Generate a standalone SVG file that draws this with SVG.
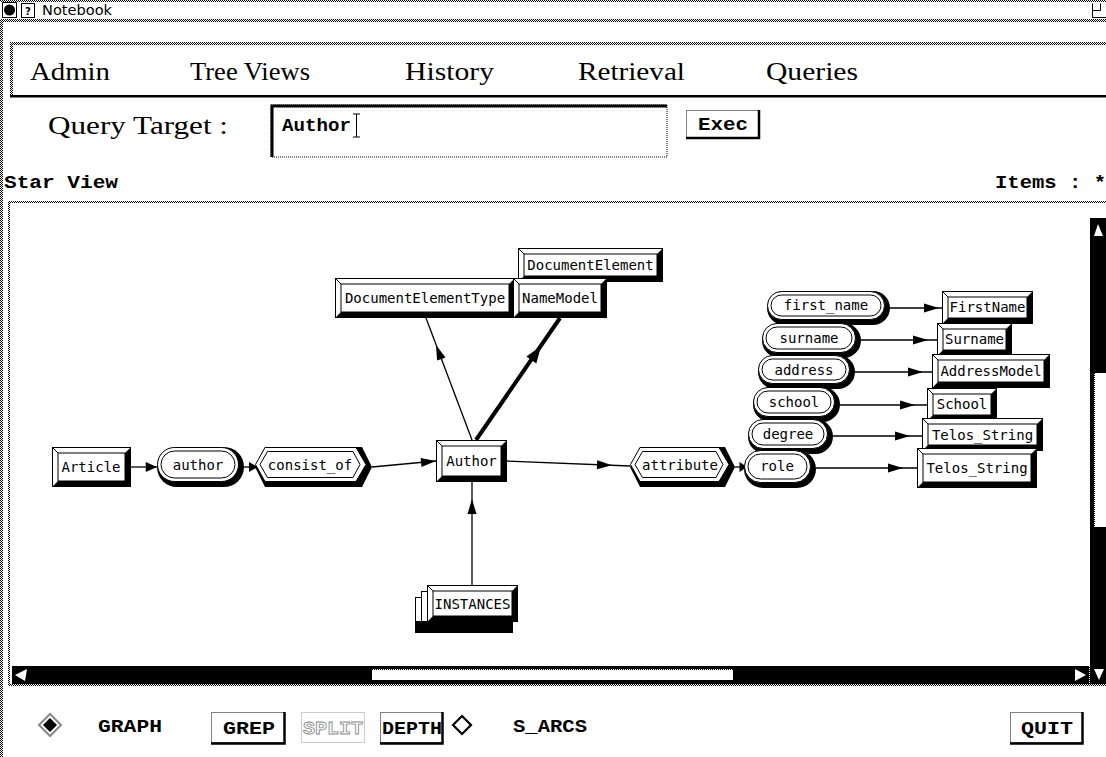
<svg xmlns="http://www.w3.org/2000/svg" xmlns:xlink="http://www.w3.org/1999/xlink" width="1106" height="757" viewBox="0 0 1106 757">
  <defs>
    <!-- 50% stipple used for the window frame bands -->
    <pattern id="stip" width="2" height="2" patternUnits="userSpaceOnUse">
      <rect width="1" height="1" fill="#000"/>
      <rect x="1" y="1" width="1" height="1" fill="#000"/>
    </pattern>
    <!-- arrowhead, tip at origin pointing along +x -->
    <path id="ah" d="M0,0 L-15,-4.5 L-15,4.5 Z"/>
    <path id="ahBig" d="M0,0 L-17,-6 L-17,6 Z"/>
    <style>
      .menu { font-family: "Liberation Serif", "DejaVu Serif", serif; font-size: 25px; fill: #000; }
      .bold { font-family: "Liberation Mono", "DejaVu Sans Mono", monospace; font-weight: bold; font-size: 18px; fill: #000; }
      .lbl { font-family: "DejaVu Sans Mono", "Liberation Mono", monospace; font-size: 14px; fill: #000; }
      .title { font-family: "DejaVu Sans", "Liberation Sans", sans-serif; font-size: 14px; fill: #000; }
      .edge { stroke: #000; stroke-width: 1.3; fill: none; }
      .thin { stroke: #000; stroke-width: 1; fill: none; }
      .wthin { stroke: #000; stroke-width: 1; fill: #fff; }
      .dots { stroke: #000; stroke-width: 1; stroke-dasharray: 1 1; fill: none; }
      .band { fill: url(#stip); }
    </style>
  </defs>

  <rect width="1106" height="757" fill="#fff"/>

  <!-- title bar -->
  <g id="titlebar">
    <rect x="2.5" y="2.5" width="14" height="15" class="wthin"/>
    <circle cx="9.5" cy="10" r="5.5" fill="#000"/>
    <rect x="21.5" y="3.5" width="13" height="14" class="thin"/>
    <text x="28" y="15" text-anchor="middle" style="font-family: 'DejaVu Sans', sans-serif; font-size: 10px; font-weight: bold;">?</text>
    <text x="42" y="15" class="title" textLength="70" lengthAdjust="spacingAndGlyphs">Notebook</text>
    <path d="M1092.5,3.5 V17.5 H1106 M1092.5,10.5 H1100.5 V3.5" class="thin"/>
  </g>

  <!-- window frame -->
  <rect x="0" y="0" width="1106" height="2" class="band"/>
  <rect x="0" y="19" width="1106" height="3" class="band"/>
  <rect x="0" y="19" width="3" height="738" class="band"/>

  <!-- menu bar -->
  <g id="menubar">
    <rect x="10" y="42" width="1096" height="3" class="band"/>
    <rect x="10" y="42" width="3" height="55" class="band"/>
    <rect x="10" y="95" width="1096" height="2.5" fill="#000"/>
    <text x="30" y="80" class="menu" textLength="80" lengthAdjust="spacingAndGlyphs">Admin</text>
    <text x="190" y="80" class="menu" textLength="120" lengthAdjust="spacingAndGlyphs">Tree Views</text>
    <text x="405" y="80" class="menu" textLength="89" lengthAdjust="spacingAndGlyphs">History</text>
    <text x="578" y="80" class="menu" textLength="107" lengthAdjust="spacingAndGlyphs">Retrieval</text>
    <text x="766" y="80" class="menu" textLength="92" lengthAdjust="spacingAndGlyphs">Queries</text>
  </g>

  <!-- query line -->
  <g id="query">
    <text x="48" y="134" class="menu" textLength="180" lengthAdjust="spacingAndGlyphs">Query Target :</text>
    <rect x="271" y="105" width="396" height="52" class="dots"/>
    <path d="M272,157 V106 H667" stroke="#000" stroke-width="3" fill="none"/>
    <text x="282" y="131" class="bold" font-size="16" textLength="69" lengthAdjust="spacingAndGlyphs">Author</text>
    <path d="M353,114 H360 M356.5,114 V137 M353,137 H360" class="thin"/>
  </g>

  <g id="exec">
    <rect x="686.5" y="110.5" width="73" height="27" class="dots"/>
    <path d="M759,110 V138 H686" stroke="#000" stroke-width="2.5" fill="none"/>
    <text x="698" y="130" class="bold" font-size="16" textLength="50" lengthAdjust="spacingAndGlyphs">Exec</text>
  </g>

  <text x="4" y="188" class="bold" font-size="17" textLength="114" lengthAdjust="spacingAndGlyphs">Star View</text>
  <text x="995" y="188" class="bold" font-size="17" textLength="111" lengthAdjust="spacingAndGlyphs">Items : *</text>

  <!-- graph canvas frame -->
  <g id="canvas">
    <rect x="8" y="201" width="1098" height="2" class="band"/>
    <rect x="8" y="201" width="2" height="484" class="band"/>
  </g>

  <!-- scrollbars -->
  <g id="vscroll">
    <rect x="1090" y="218" width="16" height="449" fill="#000"/>
    <path d="M1098,224 L1103,236 L1094,236 Z" fill="#fff"/>
    <rect x="1094" y="373" width="12" height="154" fill="#fff"/>
    <path d="M1094.5,373 V527" class="dots"/>
  </g>
  <g id="hscroll">
    <rect x="12" y="666" width="1078" height="18" fill="#000"/>
    <rect x="1090" y="666" width="16" height="18" fill="#000"/>
    <path d="M15,675 L27,669 L25,681 Z" fill="#fff"/>
    <rect x="372" y="669" width="361" height="11" fill="#fff"/>
    <path d="M372,669.5 H733" class="dots"/>
    <path d="M1075,669 L1086,675 L1075,681 Z" fill="#fff"/>
    <path d="M1089.5,666 V684" stroke="#fff" stroke-dasharray="1 1"/>
    <path d="M1094,669 L1104,669 L1099,680 Z" fill="#fff"/>
    <rect x="8" y="684" width="1098" height="2" class="band"/>
  </g>

  <!-- connectors -->
  <g id="connectors">
    <path class="edge" d="M131,467 H157"/>
    <use xlink:href="#ah" href="#ah" transform="translate(157,467) scale(0.75,1.1)"/>
    <path class="edge" d="M244,467 H257"/>
    <use xlink:href="#ah" href="#ah" transform="translate(258,467) scale(0.6,1.1)"/>
    <path class="edge" d="M372,467 L436,461"/>
    <use xlink:href="#ah" href="#ah" transform="translate(436,461) rotate(-5.4)"/>
    <path class="edge" d="M507,461 L630,466"/>
    <use xlink:href="#ah" href="#ah" transform="translate(612,465.3) rotate(2.3)"/>
    <path class="edge" d="M735,467 H746"/>
    <use xlink:href="#ah" href="#ah" transform="translate(747,467) scale(0.5,1.1)"/>

    <path class="edge" d="M472,440 L426,318"/>
    <use xlink:href="#ah" href="#ah" transform="translate(436,345) rotate(-110.7)"/>
    <path d="M476,440 L560,318" stroke="#000" stroke-width="4" fill="none"/>
    <use xlink:href="#ahBig" href="#ahBig" transform="translate(541,346) rotate(-55.5)"/>

    <path class="edge" d="M472,585 V482"/>
    <use xlink:href="#ah" href="#ah" transform="translate(472,499) rotate(-90)"/>

    <path class="edge" d="M890,308 H942"/>
    <use xlink:href="#ah" href="#ah" transform="translate(939,308)"/>
    <path class="edge" d="M861,340 H937"/>
    <use xlink:href="#ah" href="#ah" transform="translate(928,340)"/>
    <path class="edge" d="M855,372 H932"/>
    <use xlink:href="#ah" href="#ah" transform="translate(923,372)"/>
    <path class="edge" d="M840,405 H927"/>
    <use xlink:href="#ah" href="#ah" transform="translate(915,405)"/>
    <path class="edge" d="M833,436 H922"/>
    <use xlink:href="#ah" href="#ah" transform="translate(910,436)"/>
    <path class="edge" d="M816,468 H917"/>
    <use xlink:href="#ah" href="#ah" transform="translate(903,468)"/>
  </g>

  <!-- class nodes (raised boxes) -->
  <g id="n-article">
    <rect x="52.5" y="447.5" width="78" height="39" class="wthin"/>
    <path d="M130.5,447.5 V486.5 H52.5 L58,481 H125 V453 Z" fill="#000"/>
    <rect x="58" y="453" width="67" height="28" class="thin"/>
    <path d="M52.5,447.5 L58,453" class="thin"/>
    <text x="91" y="472" class="lbl" text-anchor="middle">Article</text>
  </g>

  <g id="n-author">
    <rect x="436.5" y="440.5" width="70" height="41" class="wthin"/>
    <path d="M506.5,440.5 V481.5 H436.5 L442,476 H501 V446 Z" fill="#000"/>
    <rect x="442" y="446" width="59" height="30" class="thin"/>
    <path d="M436.5,440.5 L442,446" class="thin"/>
    <text x="471.5" y="466" class="lbl" text-anchor="middle">Author</text>
  </g>

  <g id="n-documentelement">
    <rect x="518.5" y="248.5" width="144" height="33" class="wthin"/>
    <path d="M662.5,248.5 V281.5 H518.5 L524,276 H657 V254 Z" fill="#000"/>
    <rect x="524" y="254" width="133" height="22" class="thin"/>
    <path d="M518.5,248.5 L524,254" class="thin"/>
    <text x="590.5" y="270" class="lbl" text-anchor="middle">DocumentElement</text>
  </g>

  <g id="n-documentelementtype">
    <rect x="335.5" y="278.5" width="179" height="39" class="wthin"/>
    <path d="M514.5,278.5 V317.5 H335.5 L341,312 H509 V284 Z" fill="#000"/>
    <rect x="341" y="284" width="168" height="28" class="thin"/>
    <path d="M335.5,278.5 L341,284" class="thin"/>
    <text x="425" y="303" class="lbl" text-anchor="middle">DocumentElementType</text>
  </g>

  <g id="n-namemodel">
    <rect x="513.5" y="278.5" width="93" height="39" class="wthin"/>
    <path d="M606.5,278.5 V317.5 H513.5 L519,312 H601 V284 Z" fill="#000"/>
    <rect x="519" y="284" width="82" height="28" class="thin"/>
    <path d="M513.5,278.5 L519,284" class="thin"/>
    <text x="560" y="303" class="lbl" text-anchor="middle">NameModel</text>
  </g>

  <g id="n-instances">
    <!-- stacked pages behind the main box -->
    <rect x="415.5" y="597.5" width="90" height="35" class="wthin"/>
    <rect x="421.5" y="591.5" width="90" height="36" class="wthin"/>
    <rect x="415" y="621" width="98" height="12" fill="#000"/>
    <rect x="427.5" y="585.5" width="90" height="36" class="wthin"/>
    <path d="M517.5,585.5 V621.5 H427.5 L433,616 H512 V591 Z" fill="#000"/>
    <rect x="433" y="591" width="79" height="25" class="thin"/>
    <path d="M427.5,585.5 L433,591" class="thin"/>
    <text x="472.5" y="609" class="lbl" text-anchor="middle">INSTANCES</text>
  </g>

  <!-- attribute target boxes -->
  <g id="n-firstname">
    <rect x="942.5" y="291.5" width="90" height="32" class="wthin"/>
    <path d="M1032.5,291.5 V323.5 H942.5 L948,318 H1027 V297 Z" fill="#000"/>
    <rect x="948" y="297" width="79" height="21" class="thin"/>
    <path d="M942.5,291.5 L948,297" class="thin"/>
    <text x="987.5" y="312" class="lbl" text-anchor="middle">FirstName</text>
  </g>
  <g id="n-surname">
    <rect x="937.5" y="323.5" width="74" height="32" class="wthin"/>
    <path d="M1011.5,323.5 V355.5 H937.5 L943,350 H1006 V329 Z" fill="#000"/>
    <rect x="943" y="329" width="63" height="21" class="thin"/>
    <path d="M937.5,323.5 L943,329" class="thin"/>
    <text x="974.5" y="344" class="lbl" text-anchor="middle">Surname</text>
  </g>
  <g id="n-addressmodel">
    <rect x="932.5" y="354.5" width="117" height="33" class="wthin"/>
    <path d="M1049.5,354.5 V387.5 H932.5 L938,382 H1044 V360 Z" fill="#000"/>
    <rect x="938" y="360" width="106" height="22" class="thin"/>
    <path d="M932.5,354.5 L938,360" class="thin"/>
    <text x="991" y="376" class="lbl" text-anchor="middle">AddressModel</text>
  </g>
  <g id="n-school">
    <rect x="927.5" y="388.5" width="69" height="32" class="wthin"/>
    <path d="M996.5,388.5 V420.5 H927.5 L933,415 H991 V394 Z" fill="#000"/>
    <rect x="933" y="394" width="58" height="21" class="thin"/>
    <path d="M927.5,388.5 L933,394" class="thin"/>
    <text x="962" y="409" class="lbl" text-anchor="middle">School</text>
  </g>
  <g id="n-telos1">
    <rect x="922.5" y="418.5" width="120" height="32" class="wthin"/>
    <path d="M1042.5,418.5 V450.5 H922.5 L928,445 H1037 V424 Z" fill="#000"/>
    <rect x="928" y="424" width="109" height="21" class="thin"/>
    <path d="M922.5,418.5 L928,424" class="thin"/>
    <text x="982.5" y="440" class="lbl" text-anchor="middle">Telos_String</text>
  </g>
  <g id="n-telos2">
    <rect x="917.5" y="448.5" width="119" height="39" class="wthin"/>
    <path d="M1036.5,448.5 V487.5 H917.5 L923,482 H1031 V454 Z" fill="#000"/>
    <rect x="923" y="454" width="108" height="28" class="thin"/>
    <path d="M917.5,448.5 L923,454" class="thin"/>
    <text x="977" y="473" class="lbl" text-anchor="middle">Telos_String</text>
  </g>

  <!-- attribute link nodes (pills) -->
  <g id="n-author-link">
    <rect x="157" y="447" width="87" height="40" rx="20" fill="#000"/>
    <rect x="157.5" y="447.5" width="81" height="34" rx="17" class="wthin"/>
    <rect x="161" y="451" width="74" height="27" rx="13.5" class="thin"/>
    <text x="198" y="470" class="lbl" text-anchor="middle">author</text>
  </g>
  <g id="n-first_name">
    <rect x="767" y="291" width="123" height="34" rx="17" fill="#000"/>
    <rect x="767.5" y="291.5" width="117" height="28" rx="14" class="wthin"/>
    <rect x="771" y="295" width="110" height="21" rx="10.5" class="thin"/>
    <text x="826" y="310" class="lbl" text-anchor="middle">first_name</text>
  </g>
  <g id="n-surname-link">
    <rect x="762" y="323" width="99" height="35" rx="17.5" fill="#000"/>
    <rect x="762.5" y="323.5" width="93" height="29" rx="14.5" class="wthin"/>
    <rect x="766" y="327" width="86" height="22" rx="11" class="thin"/>
    <text x="809" y="343" class="lbl" text-anchor="middle">surname</text>
  </g>
  <g id="n-address">
    <rect x="758" y="355" width="97" height="34" rx="17" fill="#000"/>
    <rect x="758.5" y="355.5" width="91" height="28" rx="14" class="wthin"/>
    <rect x="762" y="359" width="84" height="21" rx="10.5" class="thin"/>
    <text x="804" y="375" class="lbl" text-anchor="middle">address</text>
  </g>
  <g id="n-school-link">
    <rect x="753" y="387" width="87" height="35" rx="17.5" fill="#000"/>
    <rect x="753.5" y="387.5" width="81" height="29" rx="14.5" class="wthin"/>
    <rect x="757" y="391" width="74" height="22" rx="11" class="thin"/>
    <text x="794" y="407" class="lbl" text-anchor="middle">school</text>
  </g>
  <g id="n-degree">
    <rect x="748" y="419" width="85" height="35" rx="17.5" fill="#000"/>
    <rect x="748.5" y="419.5" width="79" height="29" rx="14.5" class="wthin"/>
    <rect x="752" y="423" width="72" height="22" rx="11" class="thin"/>
    <text x="788" y="439" class="lbl" text-anchor="middle">degree</text>
  </g>
  <g id="n-role">
    <rect x="744" y="450" width="72" height="38" rx="19" fill="#000"/>
    <rect x="744.5" y="450.5" width="66" height="32" rx="16" class="wthin"/>
    <rect x="748" y="454" width="59" height="25" rx="12.5" class="thin"/>
    <text x="777" y="471" class="lbl" text-anchor="middle">role</text>
  </g>

  <!-- hexagonal nodes -->
  <g id="n-consist_of">
    <path d="M255,467 L265,447 H362 L372,467 L362,487 H265 Z" fill="#000"/>
    <path d="M255.5,464.5 L265,447.5 H356 L366,464.5 L356,481.5 H265 Z" class="wthin"/>
    <path d="M260,464.5 L267.5,451.5 H353 L360,464.5 L353,477.5 H267.5 Z" class="thin"/>
    <text x="310" y="470" class="lbl" text-anchor="middle">consist_of</text>
  </g>
  <g id="n-attribute">
    <path d="M630,467 L640,447 H725 L735,467 L725,487 H640 Z" fill="#000"/>
    <path d="M630.5,464.5 L640,447.5 H719 L729,464.5 L719,481.5 H640 Z" class="wthin"/>
    <path d="M635,464.5 L642.5,451.5 H716 L723,464.5 L716,477.5 H642.5 Z" class="thin"/>
    <text x="680" y="470" class="lbl" text-anchor="middle">attribute</text>
  </g>

  <!-- control row -->
  <g id="controls">
    <path d="M50,714 L61,725 L50,736 L39,725 Z" fill="none" stroke="#888" stroke-width="2"/>
    <path d="M50,718 L57,725 L50,732 L43,725 Z" fill="#000"/>
    <text x="98" y="732" class="bold" font-size="16" textLength="64" lengthAdjust="spacingAndGlyphs">GRAPH</text>

    <rect x="211.5" y="712.5" width="73" height="30" class="dots"/>
    <path d="M284.5,712 V743.5 H211" stroke="#000" stroke-width="2.5" fill="none"/>
    <text x="223" y="734" class="bold" font-size="16" textLength="52" lengthAdjust="spacingAndGlyphs">GREP</text>

    <rect x="301.5" y="712.5" width="63" height="30" stroke="#999" stroke-dasharray="1 1" fill="none"/>
    <text x="303" y="734" class="bold" font-size="16" style="fill:#fff; stroke:#888; stroke-width:0.8;" textLength="60" lengthAdjust="spacingAndGlyphs">SPLIT</text>

    <rect x="380.5" y="712.5" width="62" height="30" class="dots"/>
    <path d="M442.5,712 V743.5 H380" stroke="#000" stroke-width="2.5" fill="none"/>
    <text x="382" y="734" class="bold" font-size="16" textLength="60" lengthAdjust="spacingAndGlyphs">DEPTH</text>

    <path d="M462,716 L471,725 L462,734 L453,725 Z" fill="#fff" stroke="#000" stroke-width="2.2"/>
    <text x="513" y="732" class="bold" font-size="16" textLength="74" lengthAdjust="spacingAndGlyphs">S_ARCS</text>

    <rect x="1010.5" y="712.5" width="72" height="30" class="dots"/>
    <path d="M1082.5,712 V743.5 H1010" stroke="#000" stroke-width="2.5" fill="none"/>
    <text x="1021" y="734" class="bold" font-size="16" textLength="52" lengthAdjust="spacingAndGlyphs">QUIT</text>
  </g>
</svg>
